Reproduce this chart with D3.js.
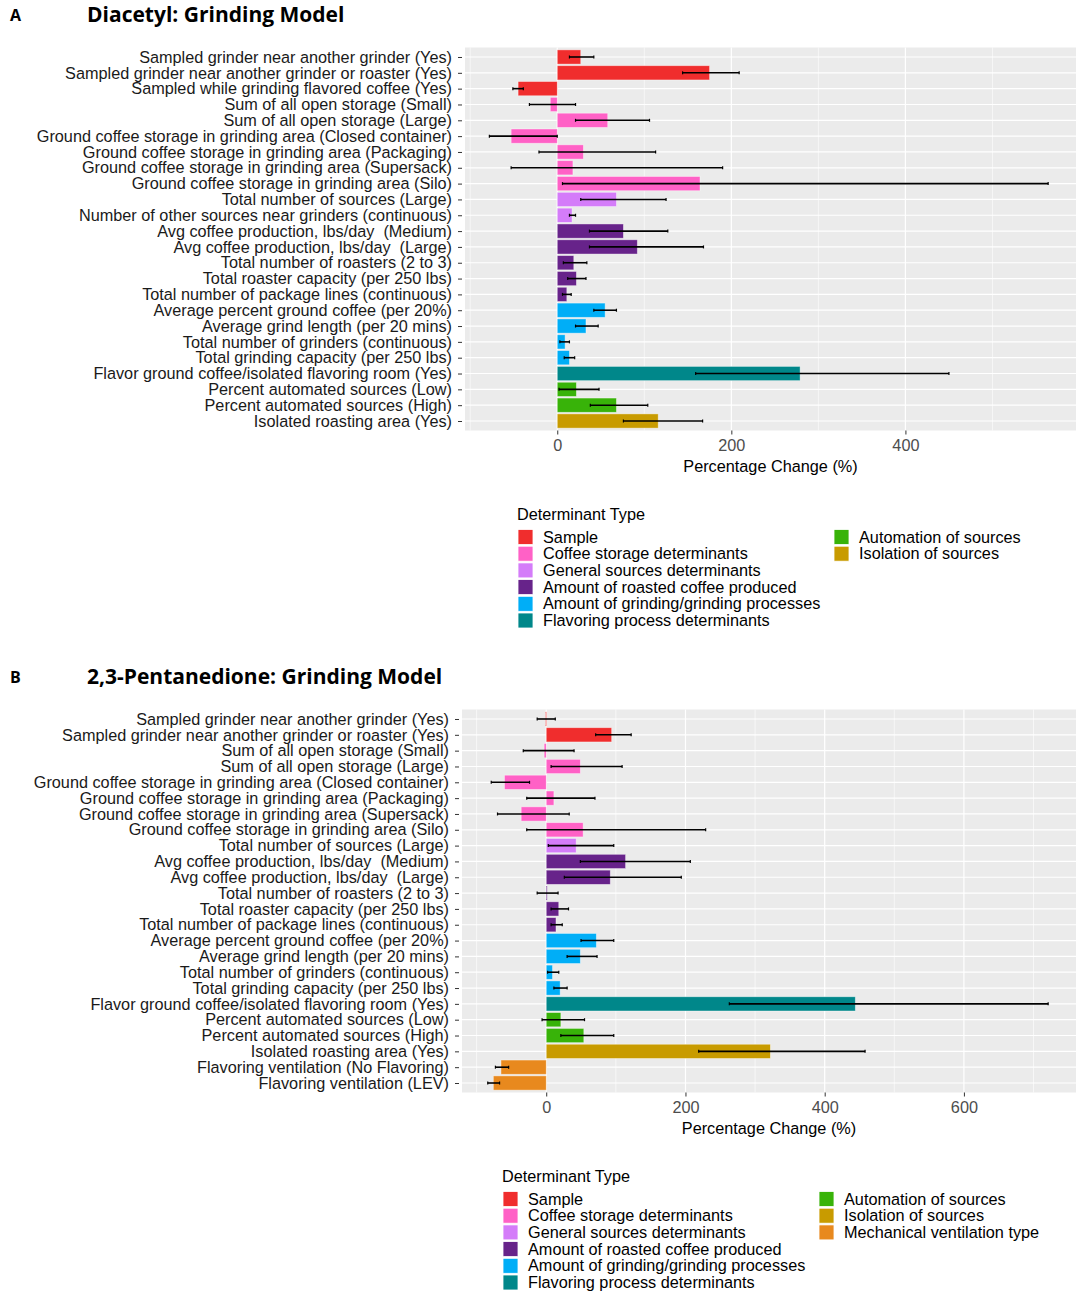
<!DOCTYPE html>
<html>
<head>
<meta charset="utf-8">
<script src="https://cdn.jsdelivr.net/npm/d3@7"></script>
<style>
  body { margin: 0; background: white; }
  text { font-family: "Liberation Sans", Arial, sans-serif; }
</style>
</head>
<body>
<script>
// Tipos de determinantes y sus colores
const typeNames = [
  "Sample",
  "Coffee storage determinants",
  "General sources determinants",
  "Amount of roasted coffee produced",
  "Amount of grinding/grinding processes",
  "Flavoring process determinants",
  "Automation of sources",
  "Isolation of sources",
  "Mechanical ventilation type",
];
const typeColors = ["#F02D2D", "#FF61C6", "#D47CF9", "#67238A", "#00AEF7", "#00878A", "#38B309", "#C89B00", "#E8891E"];

// Panel A: Diacetyl
const labelsA = [
  "Sampled grinder near another grinder (Yes)",
  "Sampled grinder near another grinder or roaster (Yes)",
  "Sampled while grinding flavored coffee (Yes)",
  "Sum of all open storage (Small)",
  "Sum of all open storage (Large)",
  "Ground coffee storage in grinding area (Closed container)",
  "Ground coffee storage in grinding area (Packaging)",
  "Ground coffee storage in grinding area (Supersack)",
  "Ground coffee storage in grinding area (Silo)",
  "Total number of sources (Large)",
  "Number of other sources near grinders (continuous)",
  "Avg coffee production, lbs/day  (Medium)",
  "Avg coffee production, lbs/day  (Large)",
  "Total number of roasters (2 to 3)",
  "Total roaster capacity (per 250 lbs)",
  "Total number of package lines (continuous)",
  "Average percent ground coffee (per 20%)",
  "Average grind length (per 20 mins)",
  "Total number of grinders (continuous)",
  "Total grinding capacity (per 250 lbs)",
  "Flavor ground coffee/isolated flavoring room (Yes)",
  "Percent automated sources (Low)",
  "Percent automated sources (High)",
  "Isolated roasting area (Yes)",
];
const typesA = [0, 0, 0, 1, 1, 1, 1, 1, 1, 2, 2, 3, 3, 3, 3, 3, 4, 4, 4, 4, 5, 6, 6, 7];
const valuesA = [27, 175, -45, -8, 58, -53, 30, 18, 164, 68, 17, 76, 92, 19, 22, 11, 55, 33, 9, 14, 279, 22, 68, 116];
const lowerA = [14, 144, -51, -32, 21, -78, -21, -53, 6, 27, 14, 37, 37, 7, 12, 6, 42, 21, 3, 8, 159, 2, 38, 76];
const upperA = [42, 209, -39, 21, 106, 0, 113, 190, 564, 125, 21, 127, 168, 34, 33, 16, 68, 47, 14, 20, 450, 48, 104, 167];
const ticksA = [0, 200, 400];

// Panel B: 2,3-Pentanedione
const labelsB = [
  "Sampled grinder near another grinder (Yes)",
  "Sampled grinder near another grinder or roaster (Yes)",
  "Sum of all open storage (Small)",
  "Sum of all open storage (Large)",
  "Ground coffee storage in grinding area (Closed container)",
  "Ground coffee storage in grinding area (Packaging)",
  "Ground coffee storage in grinding area (Supersack)",
  "Ground coffee storage in grinding area (Silo)",
  "Total number of sources (Large)",
  "Avg coffee production, lbs/day  (Medium)",
  "Avg coffee production, lbs/day  (Large)",
  "Total number of roasters (2 to 3)",
  "Total roaster capacity (per 250 lbs)",
  "Total number of package lines (continuous)",
  "Average percent ground coffee (per 20%)",
  "Average grind length (per 20 mins)",
  "Total number of grinders (continuous)",
  "Total grinding capacity (per 250 lbs)",
  "Flavor ground coffee/isolated flavoring room (Yes)",
  "Percent automated sources (Low)",
  "Percent automated sources (High)",
  "Isolated roasting area (Yes)",
  "Flavoring ventilation (No Flavoring)",
  "Flavoring ventilation (LEV)",
];
const typesB = [0, 0, 1, 1, 1, 1, 1, 1, 2, 3, 3, 3, 3, 3, 4, 4, 4, 4, 5, 6, 6, 7, 8, 8];
const valuesB = [-1, 94, -3, 49, -60, 11, -36, 53, 43, 114, 92, 1, 18, 14, 72, 49, 9, 20, 444, 21, 54, 322, -65, -76];
const lowerB = [-13, 71, -33, 7, -79, -28, -70, -28, 3, 49, 26, -13, 7, 7, 50, 30, 2, 11, 263, -6, 21, 219, -73, -84];
const upperB = [13, 122, 40, 109, -24, 70, 33, 229, 97, 207, 194, 17, 32, 23, 97, 73, 18, 30, 721, 55, 97, 458, -54, -67];
const ticksB = [0, 200, 400, 600];

const W = 1084;
const H = 1308;
const FS = "16.25px";
const svg = d3.select("body").append("svg").attr("width", W).attr("height", H);

const drawPanel = (cfg) => {
  const x = d3.scaleLinear().domain(cfg.domain).range([cfg.left, cfg.right]);
  const y = d3.scalePoint().domain(cfg.labels).range([cfg.top, cfg.bottom]).padding(0.6);
  const step = y.step();
  const g = svg.append("g");

  // Títulos
  g.append("text")
    .attr("x", 10)
    .attr("y", cfg.titleY)
    .style("font-family", "'Open Sans', sans-serif")
    .style("font-weight", "bold")
    .style("font-size", "16px")
    .text(cfg.letter);
  g.append("text")
    .attr("x", 87)
    .attr("y", cfg.titleY + 1)
    .style("font-family", "'Open Sans', sans-serif")
    .style("font-weight", "bold")
    .style("font-size", "21px")
    .text(cfg.title);

  // Fondo del panel
  g.append("rect")
    .attr("x", cfg.left)
    .attr("y", cfg.top)
    .attr("width", cfg.right - cfg.left)
    .attr("height", cfg.bottom - cfg.top)
    .attr("fill", "#EBEBEB");

  // Líneas de la cuadrícula
  const minor = d3.range(cfg.domain[0], cfg.domain[1]).filter((v) => v % 100 === 0 && v % 200 !== 0);
  g.selectAll(".minor")
    .data(minor)
    .enter()
    .append("line")
    .attr("x1", (d) => x(d))
    .attr("x2", (d) => x(d))
    .attr("y1", cfg.top)
    .attr("y2", cfg.bottom)
    .attr("stroke", "white")
    .attr("stroke-width", 0.6);
  g.selectAll(".major")
    .data(cfg.ticks)
    .enter()
    .append("line")
    .attr("x1", (d) => x(d))
    .attr("x2", (d) => x(d))
    .attr("y1", cfg.top)
    .attr("y2", cfg.bottom)
    .attr("stroke", "white")
    .attr("stroke-width", 1.2);
  g.selectAll(".hgrid")
    .data(cfg.labels)
    .enter()
    .append("line")
    .attr("x1", cfg.left)
    .attr("x2", cfg.right)
    .attr("y1", (d) => y(d))
    .attr("y2", (d) => y(d))
    .attr("stroke", "white")
    .attr("stroke-width", 1.2);

  const rows = cfg.labels.map((name, i) => ({
    name,
    value: cfg.values[i],
    lo: cfg.lower[i],
    hi: cfg.upper[i],
    type: cfg.types[i],
  }));

  // Barras
  const bh = step * 0.9;
  g.selectAll(".bar")
    .data(rows)
    .enter()
    .append("rect")
    .attr("x", (d) => x(Math.min(0, d.value)))
    .attr("y", (d) => y(d.name) - bh / 2)
    .attr("width", (d) => Math.max(1, Math.abs(x(d.value) - x(0))))
    .attr("height", bh)
    .attr("fill", (d) => typeColors[d.type])
    .attr("stroke", "white")
    .attr("stroke-opacity", 0.5)
    .attr("stroke-width", 0.8);

  // Barras de error
  g.selectAll(".err")
    .data(rows)
    .enter()
    .append("line")
    .attr("x1", (d) => x(d.lo))
    .attr("x2", (d) => x(d.hi))
    .attr("y1", (d) => y(d.name))
    .attr("y2", (d) => y(d.name))
    .attr("stroke", "black")
    .attr("stroke-width", 1.6);
  ["lo", "hi"].forEach((k) => {
    g.selectAll(".cap" + k)
      .data(rows)
      .enter()
      .append("line")
      .attr("x1", (d) => x(d[k]))
      .attr("x2", (d) => x(d[k]))
      .attr("y1", (d) => y(d.name) - 1.5)
      .attr("y2", (d) => y(d.name) + 1.5)
      .attr("stroke", "black")
      .attr("stroke-width", 1.2);
  });

  // Ejes
  const yAxis = g
    .append("g")
    .attr("transform", `translate(${cfg.left},0)`)
    .call(d3.axisLeft(y).tickSize(4).tickPadding(9));
  yAxis.select(".domain").remove();
  yAxis.selectAll("line").attr("stroke", "#333").attr("transform", "translate(-3,0)");
  yAxis.selectAll("text").style("font-size", FS).attr("fill", "#1A1A1A").attr("xml:space", "preserve");

  const xAxis = g
    .append("g")
    .attr("transform", `translate(0,${cfg.bottom})`)
    .call(d3.axisBottom(x).tickValues(cfg.ticks).tickSize(4).tickPadding(5));
  xAxis.select(".domain").remove();
  xAxis.selectAll("line").attr("stroke", "#333");
  xAxis.selectAll("text").style("font-size", FS).attr("fill", "#4D4D4D");

  g.append("text")
    .attr("x", (cfg.left + cfg.right) / 2)
    .attr("y", cfg.bottom + 41)
    .attr("text-anchor", "middle")
    .style("font-size", FS)
    .text("Percentage Change (%)");

  // Leyenda
  const leg = g.append("g").attr("transform", `translate(${cfg.legX},${cfg.legY})`);
  leg.append("text").attr("x", 0).attr("y", 5.5).style("font-size", FS).text("Determinant Type");
  const used = d3.range(typeNames.length).filter((t) => cfg.types.includes(t));
  const items = leg
    .selectAll(".item")
    .data(used)
    .enter()
    .append("g")
    .attr("transform", (d, i) => `translate(${i < 6 ? 0 : cfg.legCol2},${23 + (i % 6) * 16.7})`);
  items
    .append("rect")
    .attr("x", 1)
    .attr("y", -7.5)
    .attr("width", 15)
    .attr("height", 15)
    .attr("fill", (d) => typeColors[d])
    .attr("stroke", "white")
    .attr("stroke-width", 0.8);
  items
    .append("text")
    .attr("x", 26)
    .attr("y", 5.5)
    .style("font-size", FS)
    .text((d) => typeNames[d]);
};

drawPanel({
  letter: "A",
  title: "Diacetyl: Grinding Model",
  titleY: 21,
  labels: labelsA,
  types: typesA,
  values: valuesA,
  lower: lowerA,
  upper: upperA,
  ticks: ticksA,
  domain: [-106, 596],
  left: 465,
  right: 1076,
  top: 47.5,
  bottom: 430.5,
  legX: 517,
  legY: 514,
  legCol2: 316,
});

drawPanel({
  letter: "B",
  title: "2,3-Pentanedione: Grinding Model",
  titleY: 683,
  labels: labelsB,
  types: typesB,
  values: valuesB,
  lower: lowerB,
  upper: upperB,
  ticks: ticksB,
  domain: [-121, 761],
  left: 462,
  right: 1076,
  top: 709.5,
  bottom: 1092.5,
  legX: 502,
  legY: 1176,
  legCol2: 316,
});
</script>
</body>
</html>
